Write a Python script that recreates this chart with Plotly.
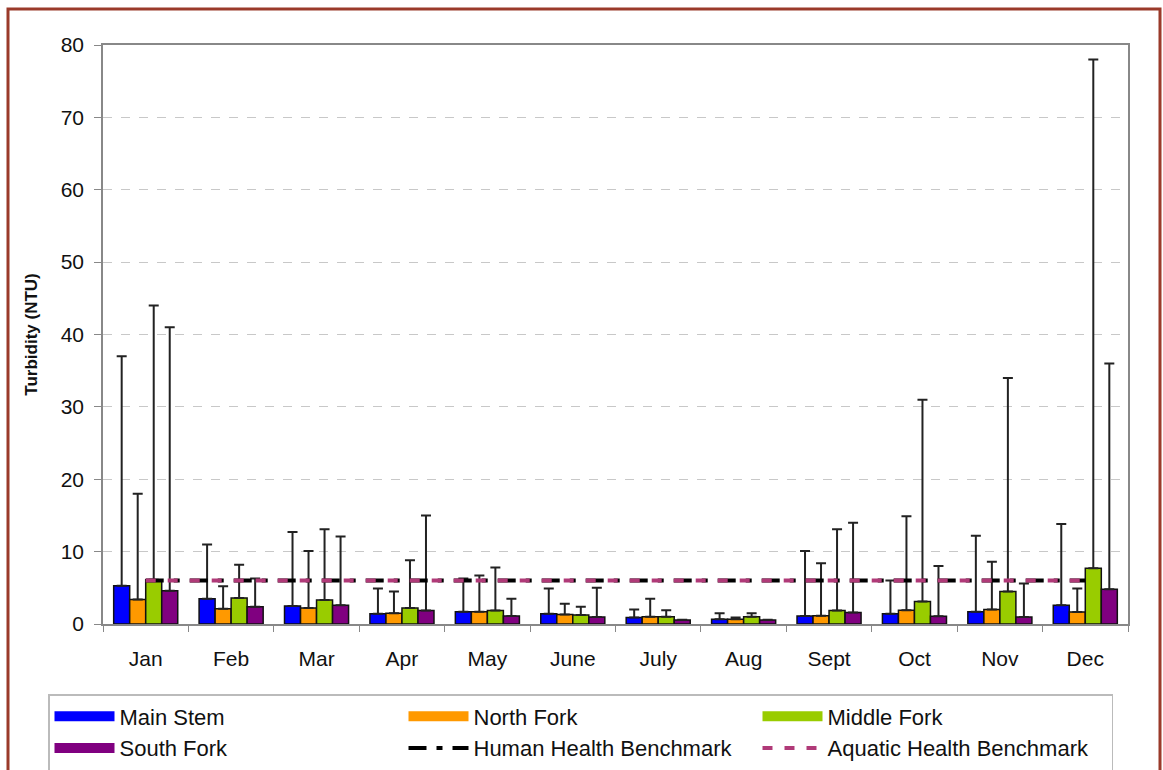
import plotly.graph_objects as go

months = ["Jan", "Feb", "Mar", "Apr", "May", "June", "July", "Aug", "Sept", "Oct", "Nov", "Dec"]

main_stem = [5.3, 3.5, 2.5, 1.4, 1.7, 1.4, 0.9, 0.65, 1.1, 1.4, 1.7, 2.6]
main_stem_max = [37, 11.0, 12.7, 4.9, 6.3, 4.9, 2.0, 1.5, 10.1, 6.0, 12.2, 13.8]

north_fork = [3.4, 2.1, 2.2, 1.5, 1.7, 1.3, 1.0, 0.65, 1.15, 1.9, 2.0, 1.65]
north_fork_max = [18, 5.2, 10.1, 4.5, 6.7, 2.8, 3.5, 0.9, 8.4, 14.9, 8.6, 4.9]

middle_fork = [6.1, 3.6, 3.3, 2.2, 1.85, 1.25, 1.0, 1.0, 1.85, 3.1, 4.5, 7.7]
middle_fork_max = [44, 8.2, 13.1, 8.8, 7.8, 2.4, 1.9, 1.5, 13.1, 31, 34, 78]

south_fork = [4.6, 2.4, 2.6, 1.85, 1.1, 0.97, 0.55, 0.55, 1.6, 1.06, 0.97, 4.8]
south_fork_max = [41, 6.3, 12.1, 15.0, 3.5, 5.0, 0.6, 0.6, 14.0, 8.0, 5.6, 36]

human_benchmark = [6] * 12
aquatic_benchmark = [6] * 12

series = [
    ("Main Stem", main_stem, main_stem_max, "#0000FF"),
    ("North Fork", north_fork, north_fork_max, "#FF9900"),
    ("Middle Fork", middle_fork, middle_fork_max, "#99CC00"),
    ("South Fork", south_fork, south_fork_max, "#800080"),
]

FONT = "Liberation Sans, Arial, sans-serif"

fig = go.Figure()
for name, vals, vmax, color in series:
    fig.add_trace(go.Bar(
        name=name, x=months, y=vals, legendgroup=name, showlegend=False,
        marker=dict(color=color, line=dict(color="#111111", width=1.5)),
        error_y=dict(type="data", symmetric=False,
                     array=[m - v for m, v in zip(vmax, vals)],
                     arrayminus=[0] * len(vals),
                     color="#222222", thickness=2, width=5),
    ))

# legend-only swatches (wide rectangles like the original legend)
for name, vals, vmax, color in series:
    fig.add_trace(go.Scatter(
        name=name, x=[None], y=[None], mode="lines", legendgroup=name,
        line=dict(color=color, width=16),
    ))

fig.add_trace(go.Scatter(
    name="Human Health Benchmark", x=months, y=human_benchmark, mode="lines",
    line=dict(color="#000000", width=4, dash="18px,10px,6px,10px"),
))
fig.add_trace(go.Scatter(
    name="Aquatic Health Benchmark", x=months, y=aquatic_benchmark, mode="lines",
    line=dict(color="#B03A78", width=4, dash="10px,12px"),
))

L, R, T, B = 103, 35, 45, 146
W, H = 1163, 770
pw, ph = W - L - R, H - T - B

def px_x(px):
    return (px - L) / pw

def px_y(py):
    return (H - B - py) / ph

fig.update_layout(
    width=W, height=H,
    margin=dict(l=L, r=R, t=T, b=B, autoexpand=False),
    paper_bgcolor="white", plot_bgcolor="white",
    font=dict(family=FONT, size=21, color="#111111"),
    barmode="group", bargap=0.25, bargroupgap=0,
    showlegend=True,
    legend=dict(
        orientation="h",
        x=px_x(48), xanchor="left",
        y=px_y(694), yanchor="top",
        entrywidth=279, entrywidthmode="pixels",
        itemwidth=60,
        bordercolor="#BBBBBB", borderwidth=1.5,
        font=dict(family=FONT, size=22, color="#111111"),
        traceorder="normal",
    ),
    shapes=[
        dict(type="rect", xref="paper", yref="paper",
             x0=px_x(8), x1=px_x(1160), y0=px_y(9), y1=px_y(800),
             line=dict(color="#9A3A2A", width=3), fillcolor="rgba(0,0,0,0)",
             layer="below"),
    ],
)

fig.update_yaxes(
    range=[0, 80], dtick=10,
    showgrid=True, gridcolor="#C8C8C8", griddash="dash", gridwidth=1,
    showline=True, linecolor="#888888", linewidth=1.5, mirror=True,
    ticks="outside", ticklen=7, tickcolor="#888888",
    tickfont=dict(family=FONT, size=21, color="#111111"),
    ticklabelstandoff=6,
    title=dict(text="<b>Turbidity (NTU)</b>", font=dict(family=FONT, size=17, color="#111111"), standoff=19),
    zeroline=False,
)
fig.update_xaxes(
    showline=True, linecolor="#888888", linewidth=1.5, mirror=True,
    ticks="outside", tickson="boundaries", ticklen=6, tickcolor="#888888",
    tickfont=dict(family=FONT, size=21, color="#111111"),
    ticklabelstandoff=15,
)

fig.write_html("out.html")
